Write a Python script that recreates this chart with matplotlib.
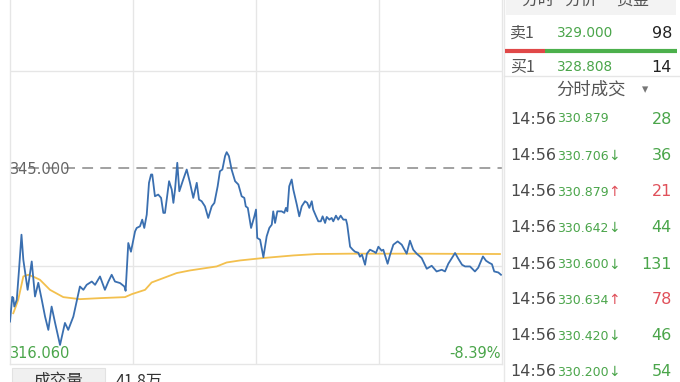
import matplotlib
matplotlib.use("Agg")
import matplotlib.pyplot as plt
from matplotlib.patches import Rectangle
from matplotlib.lines import Line2D

# ---------------- data ----------------
prev_close = 345.000
low_label = "316.060"
pct_label = "-8.39%"

price_min = [0, 1.1, 1.6, 2.1, 3.3, 4.4, 5.6, 6.5, 8.6, 10.6, 12.2, 13.8, 15.5, 17.1, 18.7, 20.3, 22.0,
             24.4, 26.8, 28.4, 30.9, 32.5, 34.1, 35.8, 37.4, 39.9, 41.5, 43.9, 46.3, 48.0, 49.6, 51.2,
             53.7, 55.8, 56.4, 57.7, 59.0, 61.0, 61.8, 63.4, 64.5, 65.5, 66.7, 67.8, 68.8, 69.4, 70.7,
             72.3, 73.7, 74.8, 75.6, 77.6, 78.9, 79.7, 80.5, 81.6, 82.6, 84.5, 86.2, 87.8, 89.4, 91.1,
             92.2, 93.5, 95.1, 96.7, 98.4, 99.7, 101.3, 102.4, 103.6, 104.9, 105.7, 106.8, 108.1, 109.8,
             111.4, 113.0, 114.3, 115.0, 116.0, 117.6, 119.2, 120.0, 120.6, 122.0, 123.6, 125.2, 126.5,
             127.7, 128.4, 129.3, 130.4, 132.5, 133.8, 134.6, 135.3, 136.2, 137.4, 138.2, 139.9, 141.1,
             142.3, 143.9, 145.0, 146.0, 147.2, 147.9, 149.3, 150.4, 151.6, 152.5, 153.7, 154.5, 155.8,
             156.9, 157.7, 159.0, 160.1, 161.3, 162.6, 163.9, 164.5, 165.9, 167.2, 168.3, 169.9, 170.7,
             171.7, 173.2, 174.1, 175.6, 177.6, 178.5, 179.7, 181.3, 182.1, 184.2, 185.4, 187.0, 189.1,
             191.1, 193.5, 195.1, 196.7, 198.4, 200.8, 203.3, 205.7, 208.1, 210.6, 212.2, 213.8, 217.1,
             218.7, 220.5, 222.0, 224.4, 226.8, 228.4, 230.7, 232.2, 233.7, 235.1, 236.2, 238.2, 239.5]
price = [322.34, 326.00, 325.86, 324.56, 325.56, 330.01, 335.20, 331.49, 327.04, 331.24, 326.05, 328.08,
         325.56, 323.08, 321.11, 324.56, 322.14, 318.88, 322.14, 321.11, 323.08, 325.31, 327.53, 327.04,
         327.78, 328.27, 327.78, 329.02, 327.04, 328.27, 329.27, 328.27, 328.04, 327.53, 326.89, 333.97,
         332.68, 335.69, 336.20, 336.44, 337.43, 336.20, 338.17, 342.88, 344.11, 344.11, 340.89, 341.14,
         340.65, 338.43, 338.43, 343.12, 341.88, 339.91, 341.88, 345.85, 341.63, 343.37, 344.85, 342.88,
         340.65, 342.88, 340.40, 340.15, 339.40, 337.68, 339.40, 339.91, 342.37, 344.60, 344.85, 346.83,
         347.42, 346.83, 344.85, 343.12, 342.63, 340.89, 340.65, 339.40, 339.17, 336.20, 337.92, 338.92,
         334.72, 334.46, 331.87, 334.95, 336.20, 336.69, 338.66, 336.94, 338.66, 338.66, 338.43, 339.17,
         338.66, 342.37, 343.37, 341.88, 339.66, 337.92, 339.40, 340.15, 339.91, 339.17, 340.15, 338.92,
         337.92, 337.18, 337.18, 337.92, 336.94, 337.83, 337.43, 337.68, 337.18, 338.02, 337.43, 338.02,
         337.43, 337.43, 336.69, 333.42, 332.98, 332.68, 332.53, 331.94, 332.24, 330.75, 332.39, 332.98,
         332.68, 332.49, 333.42, 332.83, 332.98, 330.90, 332.24, 333.72, 334.21, 333.72, 332.39, 334.31,
         332.98, 332.39, 331.75, 330.16, 330.60, 329.76, 330.01, 329.76, 330.90, 332.49, 331.64, 330.75,
         330.50, 330.50, 329.76, 330.31, 331.98, 331.35, 331.05, 330.83, 329.76, 329.61, 329.27]

avg_min = [1.6, 2.5, 4.0, 6.5, 8.9, 12.0, 14.6, 19.5, 26.0, 34.1, 43.9, 56.1, 59.4, 65.9, 69.1, 74.8,
           81.3, 87.8, 100.8, 105.7, 112.2, 123.6, 138.2, 149.6, 165.9, 198.4, 239.0]
avg = [323.58, 324.3, 325.56, 329.02, 329.27, 328.9, 328.53, 327.04, 325.96, 325.66, 325.81, 325.96,
       326.40, 327.04, 328.13, 328.78, 329.52, 329.91, 330.50, 331.09, 331.39, 331.75, 332.13, 332.34,
       332.39, 332.39, 332.34]

tabs = ["分时", "分价", "资金"]
book_labels = ["卖1", "买1"]
book_prices = ["329.000", "328.808"]
book_vols = [98, 14]
trade_header = "分时成交"
trade_times = ["14:56"] * 8
trade_prices = ["330.879", "330.706", "330.879", "330.642", "330.600", "330.634", "330.420", "330.200"]
trade_dirs = ["", "↓", "↑", "↓", "↓", "↑", "↓", "↓"]
trade_vols = [28, 36, 21, 44, 131, 78, 46, 54]
volume_tab = "成交量"
volume_total = "41.8万"

# ---------------- figure ----------------
W, H = 680, 382
fig = plt.figure(figsize=(W / 100, H / 100), dpi=100)
fig.patch.set_facecolor("white")

def P(x, y):
    return (x / W, 1 - y / H)

GREEN = "#4aa54a"
RED = "#e0505a"
BLUE = "#3a6fb0"
GOLD = "#f3c04e"
GRID = "#e6e6e6"

# chart axes (top part extends beyond the screenshot)
left, right, top, bottom = 10, 502, -27, 364
ax = fig.add_axes([left / W, 1 - bottom / H, (right - left) / W, (bottom - top) / H])
ymin = 316.06
ymax = prev_close + (prev_close - ymin)
ax.set_xlim(0, 240)
ax.set_ylim(ymin, ymax)
for s in ax.spines.values():
    s.set_color(GRID)
    s.set_linewidth(1.0)
ax.set_xticks([])
ax.set_yticks([])
for m in [60, 120, 180]:
    ax.axvline(m, color=GRID, lw=1.0, zorder=0)
step = (ymax - ymin) / 4
for k in [1, 3]:
    ax.axhline(ymin + k * step, color=GRID, lw=1.0, zorder=0)
ax.axhline(prev_close, color="#9a9a9a", lw=1.3, ls=(0, (6, 4)), zorder=1)
ax.plot(avg_min, avg, color=GOLD, lw=1.3, zorder=2)
ax.plot(price_min, price, color=BLUE, lw=1.3, zorder=3)
ax.set_facecolor("white")

fig.text(*P(10, 169), f"{prev_close:.3f}", color="#666666", fontsize=10.5, ha="left", va="center",
         family="DejaVu Sans", zorder=5)
fig.text(*P(10, 353), low_label, color=GREEN, fontsize=10.5, ha="left", va="center", family="DejaVu Sans")
fig.text(*P(501, 353), pct_label, color=GREEN, fontsize=10.5, ha="right", va="center", family="DejaVu Sans")

# bottom volume tab
fig.patches.append(Rectangle(P(12, 382), 93 / W, 14 / H, transform=fig.transFigure,
                             facecolor="#f0f0f0", edgecolor="#e2e2e2", lw=0.8))
cjk = ["Noto Sans CJK SC", "DejaVu Sans"]
fig.text(*P(58, 381), volume_tab, color="#333333", fontsize=12, ha="center", va="center", family=cjk)
fig.text(*P(116, 381), volume_total, color="#333333", fontsize=11.5, ha="left", va="center", family=cjk)

# ---------------- right panel ----------------
fig.lines.append(Line2D([504 / W, 504 / W], [0, 1], transform=fig.transFigure, color="#e8e8e8", lw=1))
fig.patches.append(Rectangle(P(506, 15), 170 / W, 15 / H, transform=fig.transFigure,
                             facecolor="#f3f3f3", edgecolor="none"))
for cx, t in zip([538, 581, 633], tabs):
    fig.text(*P(cx, 0), t, color="#555555", fontsize=12, ha="center", va="center", family=cjk)

for yy, lab, pr, v in zip([33, 67], book_labels, book_prices, book_vols):
    fig.text(*P(510, yy), lab, color="#555555", fontsize=11.5, ha="left", va="center", family=cjk)
    fig.text(*P(557, yy), pr, color=GREEN, fontsize=9.8, ha="left", va="center", family="DejaVu Sans")
    fig.text(*P(672, yy), str(v), color="#222222", fontsize=11.5, ha="right", va="center",
             family="DejaVu Sans")
fig.lines.append(Line2D([505 / W, 545 / W], [1 - 50.5 / H] * 2, transform=fig.transFigure,
                        color="#e04848", lw=3, solid_capstyle="butt"))
fig.lines.append(Line2D([545 / W, 677 / W], [1 - 50.5 / H] * 2, transform=fig.transFigure,
                        color="#4cb04c", lw=3, solid_capstyle="butt"))
fig.lines.append(Line2D([504 / W, 1], [1 - 76 / H] * 2, transform=fig.transFigure, color="#e6e6e6", lw=1))

fig.text(*P(591, 90), trade_header, color="#555555", fontsize=12.5, ha="center", va="center", family=cjk)
fig.text(*P(645, 90), "▾", color="#777777", fontsize=9, ha="center", va="center", family="DejaVu Sans")

row_y = [119, 156, 192, 228, 264.5, 300, 336, 372]
for yy, t, pr, d, v in zip(row_y, trade_times, trade_prices, trade_dirs, trade_vols):
    fig.text(*P(510, yy), t, color="#4a4a4a", fontsize=11.5, ha="left", va="center", family="DejaVu Sans")
    fig.text(*P(557, yy), pr, color=GREEN, fontsize=9, ha="left", va="center", family="DejaVu Sans")
    col = RED if d == "↑" else GREEN
    if d:
        fig.text(*P(614, yy), d, color=col, fontsize=10, ha="center", va="center", family="DejaVu Sans")
    fig.text(*P(672, yy), str(v), color=col, fontsize=11.5, ha="right", va="center", family="DejaVu Sans")

fig.savefig("out.png", dpi=100)
